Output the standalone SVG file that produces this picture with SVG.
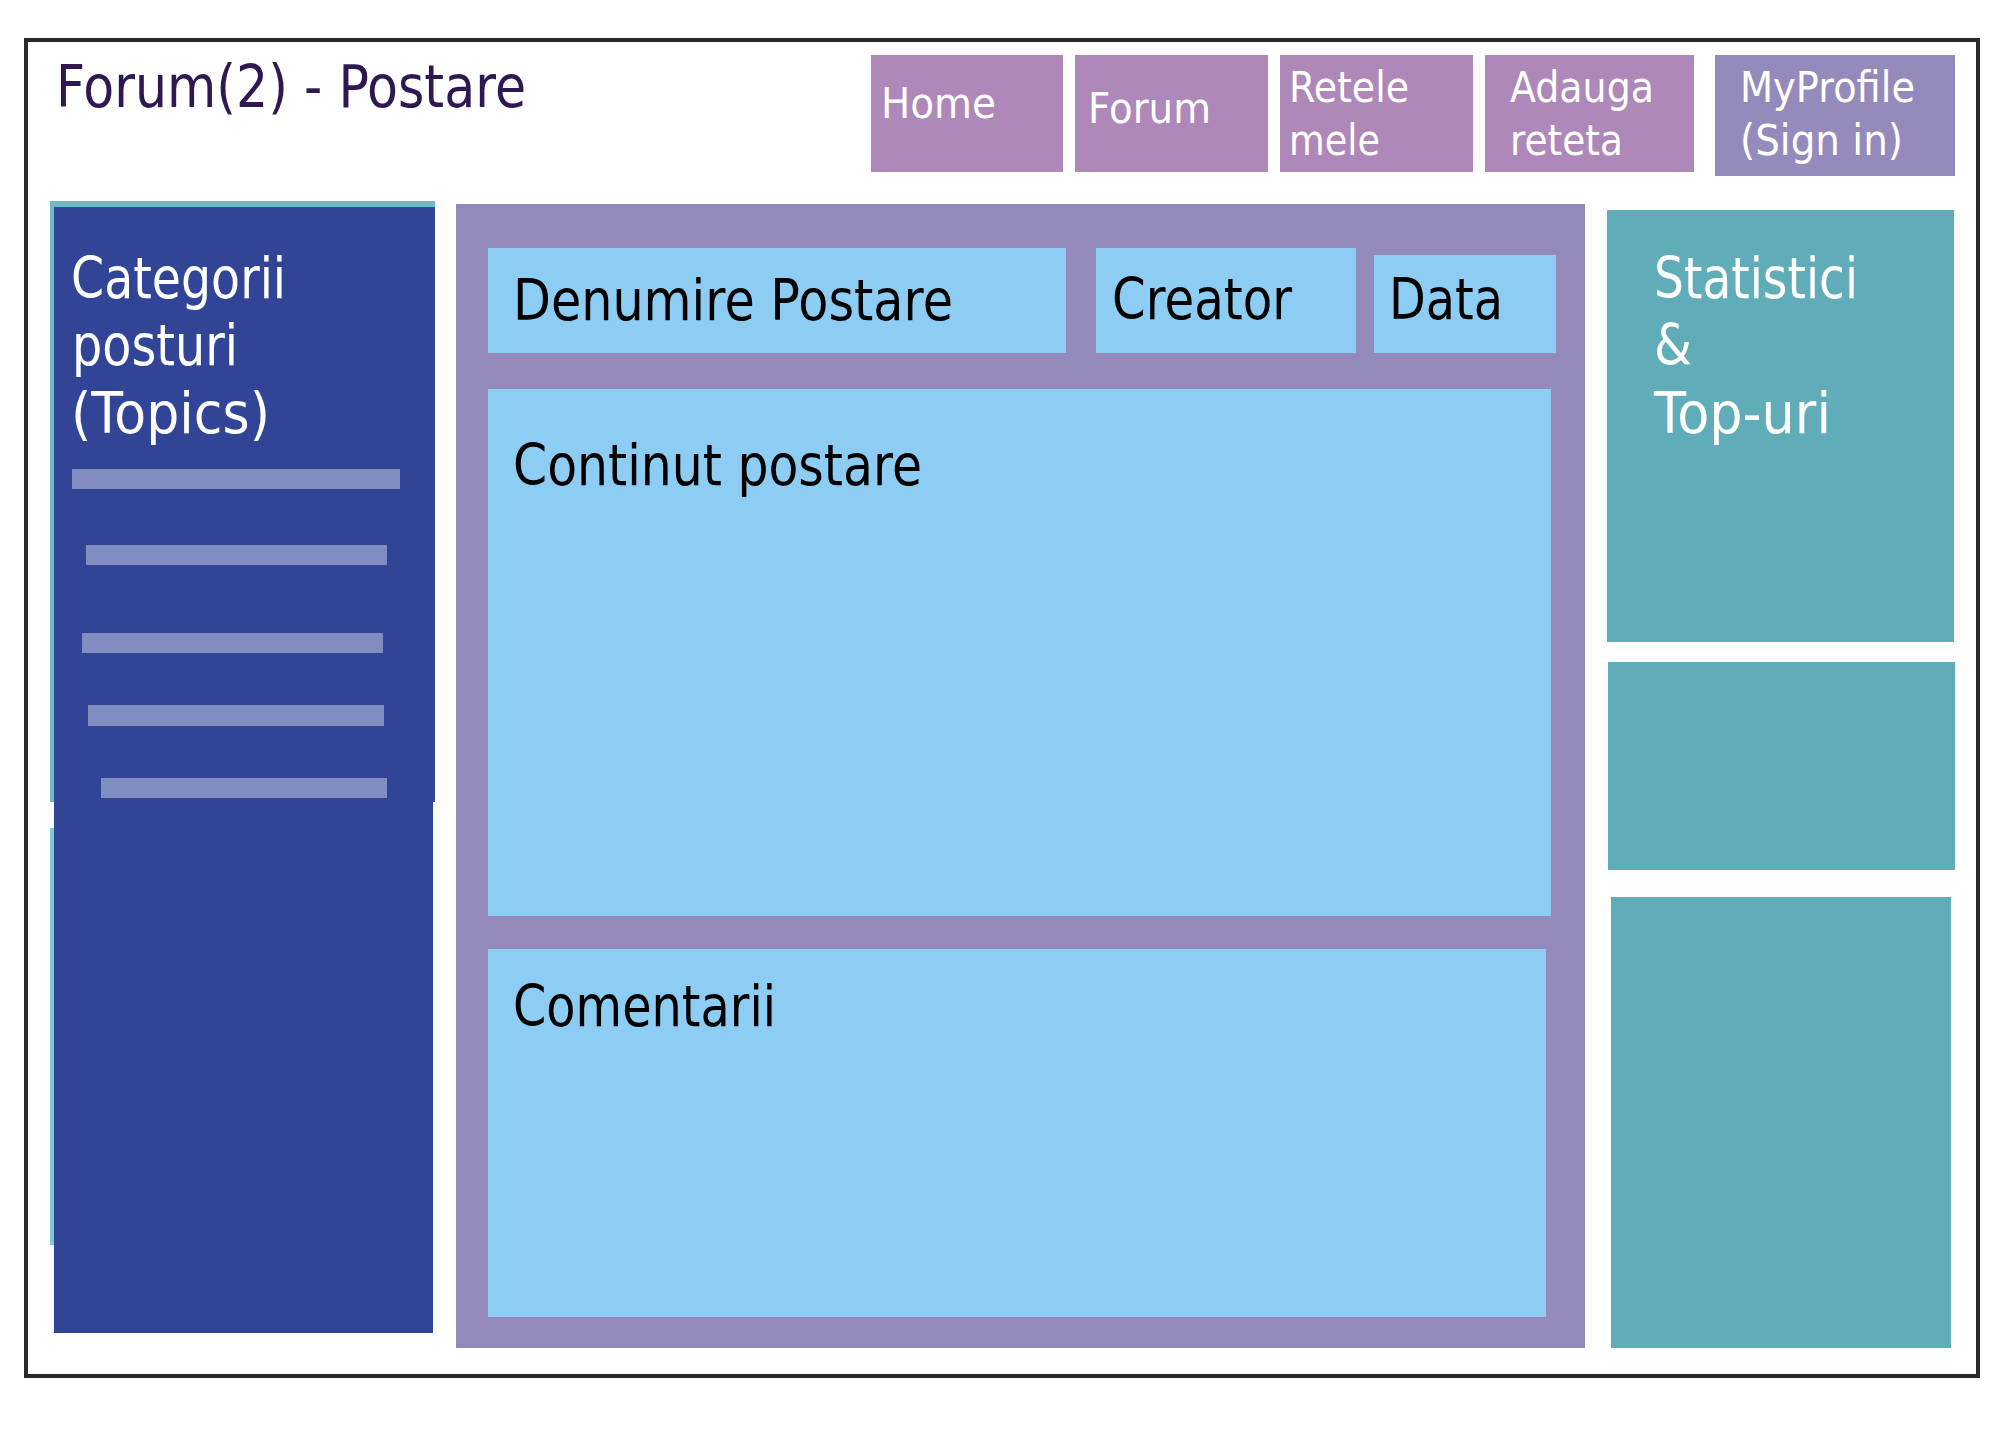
<svg xmlns="http://www.w3.org/2000/svg" width="2016" height="1440" viewBox="0 0 2016 1440">
<style>
text{font-family:"DejaVu Sans","Liberation Sans",sans-serif}
.nav{fill:#ae88b8}
.prof{fill:#958abc}
.wt{fill:#ffffff;font-size:43px}
.big{font-size:57px}
.blk{fill:#000000}
.wh{fill:#ffffff}
.lb{fill:#8dcdf3}
.teal{fill:#60adb9}
.bar{fill:#818dc0}
.blue{fill:#314496}
</style>
<rect x="0" y="0" width="2016" height="1440" fill="#ffffff"/>
<g id="frame">
<rect x="26" y="40" width="1952" height="1336" fill="#ffffff" stroke="#2a2a2a" stroke-width="4"/>
</g>
<g id="title">
<text x="56" y="107" font-size="58" fill="#2f1852" textLength="470" lengthAdjust="spacingAndGlyphs">Forum(2) - Postare</text>
</g>
<g id="nav-home">
<rect class="nav" x="871" y="55" width="192" height="117"/>
<text class="wt" x="881" y="118" textLength="115" lengthAdjust="spacingAndGlyphs">Home</text>
</g>
<g id="nav-forum">
<rect class="nav" x="1075" y="55" width="193" height="117"/>
<text class="wt" x="1088" y="123" textLength="123" lengthAdjust="spacingAndGlyphs">Forum</text>
</g>
<g id="nav-retele">
<rect class="nav" x="1280" y="55" width="193" height="117"/>
<text class="wt" x="1289" y="102" textLength="120" lengthAdjust="spacingAndGlyphs">Retele</text>
<text class="wt" x="1289" y="155" textLength="91" lengthAdjust="spacingAndGlyphs">mele</text>
</g>
<g id="nav-adauga">
<rect class="nav" x="1485" y="55" width="209" height="117"/>
<text class="wt" x="1510" y="102" textLength="144" lengthAdjust="spacingAndGlyphs">Adauga</text>
<text class="wt" x="1510" y="155" textLength="113" lengthAdjust="spacingAndGlyphs">reteta</text>
</g>
<g id="nav-profile">
<rect class="prof" x="1715" y="55" width="240" height="121"/>
<text class="wt" x="1740" y="102" textLength="175" lengthAdjust="spacingAndGlyphs">MyProfile</text>
<text class="wt" x="1740" y="155" textLength="163" lengthAdjust="spacingAndGlyphs">(Sign in)</text>
</g>
<g id="categorii">
<rect x="50" y="201" width="385" height="601" fill="#6fbac4"/>
<rect x="50" y="828" width="383" height="417" fill="#7ecad6"/>
<rect class="blue" x="54" y="207" width="381" height="595"/>
<rect class="blue" x="54" y="802" width="379" height="531"/>
<text class="wh big" x="71" y="298" textLength="215" lengthAdjust="spacingAndGlyphs">Categorii</text>
<text class="wh big" x="72" y="365" textLength="166" lengthAdjust="spacingAndGlyphs">posturi</text>
<text class="wh big" x="71" y="433" textLength="199" lengthAdjust="spacingAndGlyphs">(Topics)</text>
<rect class="bar" x="72" y="469" width="328" height="20"/>
<rect class="bar" x="86" y="545" width="301" height="20"/>
<rect class="bar" x="82" y="633" width="301" height="20"/>
<rect class="bar" x="88" y="705" width="296" height="21"/>
<rect class="bar" x="101" y="778" width="286" height="20"/>
</g>
<g id="postare">
<rect x="456" y="204" width="1129" height="1144" fill="#958abc"/>
</g>
<g id="denumire">
<rect class="lb" x="488" y="248" width="578" height="105"/>
<text class="blk big" x="513" y="320" textLength="440" lengthAdjust="spacingAndGlyphs">Denumire Postare</text>
</g>
<g id="creator">
<rect class="lb" x="1096" y="248" width="260" height="105"/>
<text class="blk big" x="1112" y="319" textLength="180" lengthAdjust="spacingAndGlyphs">Creator</text>
</g>
<g id="data">
<rect class="lb" x="1374" y="255" width="182" height="98"/>
<text class="blk big" x="1389" y="319" textLength="114" lengthAdjust="spacingAndGlyphs">Data</text>
</g>
<g id="continut">
<rect class="lb" x="488" y="389" width="1063" height="527"/>
<text class="blk big" x="513" y="485" textLength="409" lengthAdjust="spacingAndGlyphs">Continut postare</text>
</g>
<g id="comentarii">
<rect class="lb" x="488" y="949" width="1058" height="368"/>
<text class="blk big" x="513" y="1026" textLength="263" lengthAdjust="spacingAndGlyphs">Comentarii</text>
</g>
<g id="statistici">
<rect class="teal" x="1607" y="210" width="347" height="432"/>
<text class="wh big" x="1654" y="298" textLength="204" lengthAdjust="spacingAndGlyphs">Statistici</text>
<text class="wh big" x="1654" y="365" textLength="38" lengthAdjust="spacingAndGlyphs">&amp;</text>
<text class="wh big" x="1654" y="433" textLength="177" lengthAdjust="spacingAndGlyphs">Top-uri</text>
</g>
<g id="teal-2">
<rect class="teal" x="1608" y="662" width="347" height="208"/>
</g>
<g id="teal-3">
<rect class="teal" x="1611" y="897" width="340" height="451"/>
</g>
<g id="connectors"></g>
</svg>
